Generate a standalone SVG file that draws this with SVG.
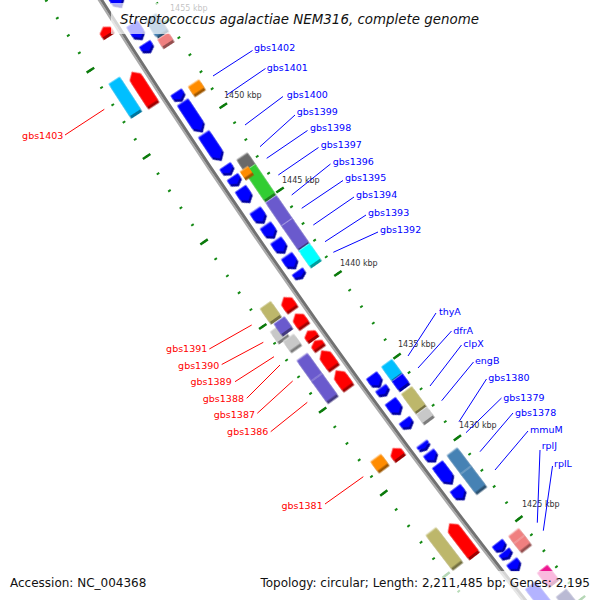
<svg xmlns="http://www.w3.org/2000/svg" width="600" height="600" viewBox="0 0 600 600">
<style>
text{font-family:"DejaVu Sans","Liberation Sans",sans-serif}
.lb{font-size:9.5px;fill:#0000ff}
.lr{font-size:9.5px;fill:#ff0000;text-anchor:end}
.tk{font-size:8px;fill:#333333}
.f{filter:url(#bev)}
.bl{fill:#0000ff}.rd{fill:#ff0000}.sb{fill:#4682b4}.lc{fill:#f08080}.or{fill:#ff8c00}.dg{fill:#696969}.gr{fill:#32cd32}.pu{fill:#6a5acd}.cy{fill:#00ffff}.ds{fill:#00bfff}.kh{fill:#bdb76b}.si{fill:#c8c8c8}.pk{fill:#ee1590}.nv{fill:#191970}
.ldb{stroke:#0000ff;stroke-width:1;fill:none}
.ldr{stroke:#ff0000;stroke-width:1;fill:none}
.ov{fill:#ffffff;fill-opacity:0.7}
.ttl{font-size:13.4px;font-style:italic;fill:#111111}
.lg{font-size:12px;fill:#111111}
.tmin{fill:none;stroke:#158a15;stroke-width:3}
.tmaj{fill:none;stroke:#0b7a0b;stroke-width:9}
</style>
<defs>
<filter id="bev" filterUnits="userSpaceOnUse" x="-20" y="-40" width="40" height="80" color-interpolation-filters="sRGB">
<feOffset in="SourceGraphic" dx="-0.5" dy="-2.6" result="o"/>
<feColorMatrix in="o" type="matrix" values="0.62 0 0 0 0 0 0.62 0 0 0 0 0 0.62 0 0 0 0 0 1 0" result="d"/>
<feOffset in="SourceGraphic" dx="0.2" dy="1" result="o2"/>
<feColorMatrix in="o2" type="matrix" values="0.6 0 0 0 0.4 0 0.6 0 0 0.4 0 0 0.6 0 0.4 0 0 0 1 0" result="l"/>
<feMerge><feMergeNode in="d"/><feMergeNode in="l"/><feMergeNode in="SourceGraphic"/></feMerge>
</filter>
<path id="d37" d="M-6.5,18.5H6.5V-12.5L0,-18.5L-6.5,-12.5Z"/>
<path id="d36" d="M-6.5,18H6.5V-12L0,-18L-6.5,-12Z"/>
<path id="d33" d="M-6.5,16.5H6.5V-10.5L0,-16.5L-6.5,-10.5Z"/>
<path id="d29" d="M-6.5,14.5H6.5V-8.5L0,-14.5L-6.5,-8.5Z"/>
<path id="d22" d="M-6.5,11H6.5V-5L0,-11L-6.5,-5Z"/>
<path id="d16" d="M-6.5,8H6.5V-3L0,-8L-6.5,-3Z"/>
<path id="d14" d="M-6.5,7H6.5V-2L0,-7L-6.5,-2Z"/>
<path id="d13" d="M-6.5,6.5H6.5V-1.5L0,-6.5L-6.5,-1.5Z"/>
<path id="d12" d="M-6.5,6H6.5V-1L0,-6L-6.5,-1Z"/>
<path id="d9" d="M-6.5,4.5H6.5V0.5L0,-4.5L-6.5,0.5Z"/>
<path id="d8" d="M-6.5,4H6.5V0L0,-4L-6.5,0Z"/>
<path id="d7" d="M-6.5,3.5H6.5V0L0,-3.5L-6.5,0Z"/>
<path id="d6" d="M-6.5,3H6.5V0L0,-3L-6.5,0Z"/>
<path id="d5" d="M-6.5,2.5H6.5V0L0,-2.5L-6.5,0Z"/>
<path id="u38" d="M-6.5,-19H6.5V13L0,19L-6.5,13Z"/>
<path id="u37" d="M-6.5,-18.5H6.5V12.5L0,18.5L-6.5,12.5Z"/>
<path id="u19" d="M-6.5,-9.5H6.5V3.5L0,9.5L-6.5,3.5Z"/>
<path id="u13" d="M-6.5,-6.5H6.5V1.5L0,6.5L-6.5,1.5Z"/>
<path id="u10" d="M-6.5,-5H6.5V0L0,5L-6.5,0Z"/>
<path id="u8" d="M-6.5,-4H6.5V0L0,4L-6.5,0Z"/>
<path id="u7" d="M-6.5,-3.5H6.5V0L0,3.5L-6.5,0Z"/>
</defs>
<rect width="600" height="600" fill="#ffffff"/>
<g id="map" transform="translate(6023,-3733)">
<g id="ticks">
<path class="tmin" d="M-5909.34,3667.66 A6955,6955 0 0 0 -5427.89,4348.56" stroke-dasharray="2 18.32" stroke-dashoffset="1"/>
<path class="tmaj" d="M-5909.34,3667.66 A6955,6955 0 0 0 -5427.89,4348.56" stroke-dasharray="2.5 99.1" stroke-dashoffset="1.25"/>
<path class="tmin" d="M-5987.50,3716.17 A7047,7047 0 0 0 -5499.69,4406.08" stroke-dasharray="2 18.589" stroke-dashoffset="1"/>
<path class="tmaj" d="M-5987.50,3716.17 A7047,7047 0 0 0 -5499.69,4406.08" stroke-dasharray="2.5 100.445" stroke-dashoffset="1.25"/>
</g>
<g id="backbone">
<circle r="7002.3" fill="none" stroke="#aaaaaa" stroke-width="2"/>
<circle r="6999.8" fill="none" stroke="#727272" stroke-width="3"/>
</g>
<g id="features">
<g id="b01" transform="rotate(147.802) translate(6987,0)"><use href="#d37" class="f bl"/></g>
<g id="b02" transform="rotate(147.404) translate(6987,0)"><use href="#d16" class="f bl"/></g>
<g id="b03" transform="rotate(147.244) translate(6987,0)"><use href="#d8" class="f bl"/></g>
<g id="b04" transform="rotate(146.770) translate(6987,0)"><use href="#d8" class="f bl"/></g>
<g id="b05" transform="rotate(146.569) translate(6987,0)"><use href="#d33" class="f bl"/></g>
<g id="b06" transform="rotate(146.273) translate(6987,0)"><use href="#d29" class="f bl"/></g>
<g id="b07" transform="rotate(146.044) translate(6987,0)"><use href="#d8" class="f bl"/></g>
<g id="b08" transform="rotate(145.936) translate(6987,0)"><use href="#d8" class="f bl"/></g>
<g id="b09" transform="rotate(145.794) translate(6987,0)"><use href="#d14" class="f bl"/></g>
<g id="b10" transform="rotate(145.584) translate(6987,0)"><use href="#d13" class="f bl"/></g>
<g id="b11" transform="rotate(145.435) translate(6987,0)"><use href="#d13" class="f bl"/></g>
<g id="b12" transform="rotate(145.285) translate(6987,0)"><use href="#d13" class="f bl"/></g>
<g id="b13" transform="rotate(145.130) translate(6987,0)"><use href="#d13" class="f bl"/></g>
<g id="b14" transform="rotate(145.004) translate(6987,0)"><use href="#d6" class="f bl"/></g>
<g id="b15" transform="rotate(143.932) translate(6987,0)"><use href="#d12" class="f bl"/></g>
<g id="b16" transform="rotate(143.825) translate(6987,0)"><use href="#d7" class="f bl"/></g>
<g id="b17" transform="rotate(143.663) translate(6987,0)"><use href="#d14" class="f bl"/></g>
<g id="b18" transform="rotate(143.494) translate(6987,0)"><use href="#d8" class="f bl"/></g>
<g id="b19" transform="rotate(143.264) translate(6987,0)"><use href="#d5" class="f bl"/></g>
<g id="b20" transform="rotate(143.157) translate(6987,0)"><use href="#d9" class="f bl"/></g>
<g id="b21" transform="rotate(142.982) translate(6987,0)"><use href="#d22" class="f bl"/></g>
<g id="b22" transform="rotate(142.781) translate(6987,0)"><use href="#d12" class="f bl"/></g>
<g id="b23" transform="rotate(142.230) translate(6987,0)"><use href="#d8" class="f bl"/></g>
<g id="b24" transform="rotate(142.148) translate(6987,0)"><use href="#d6" class="f bl"/></g>
<g id="b25" transform="rotate(142.033) translate(6987,0)"><use href="#d9" class="f bl"/></g>
<g id="b26" transform="rotate(141.674) translate(6987,0)"><use href="#d36" class="f bl"/></g>

<g id="c01" transform="rotate(147.356) translate(6967.5,0)"><rect class="f sb" x="-6.5" y="-9.5" width="13" height="19"/></g>
<g id="c02" transform="rotate(147.215) translate(6967.5,0)"><rect class="f lc" x="-6.5" y="-4" width="13" height="8"/></g>
<g id="c03" transform="rotate(146.748) translate(6967.5,0)"><rect class="f or" x="-6.5" y="-4.5" width="13" height="9"/></g>
<g id="c04" transform="rotate(146.010) translate(6967.5,0)"><rect class="f dg" x="-6.5" y="-6.5" width="13" height="13"/></g>
<g id="c06" transform="rotate(145.810) translate(6967.5,0)"><rect class="f gr" x="-6.5" y="-17" width="13" height="34"/></g>
<g id="c05" transform="rotate(145.939) translate(6973,0)"><rect class="f or" x="-5" y="-3.5" width="10" height="7"/></g>
<g id="c07a" transform="rotate(145.525) translate(6967.5,0)"><rect class="f pu" x="-6.5" y="-14" width="13" height="28"/></g>
<g id="c07b" transform="rotate(145.295) translate(6967.5,0)"><rect class="f pu" x="-6.5" y="-14" width="13" height="28"/></g>
<g id="c08" transform="rotate(145.085) translate(6967.5,0)"><rect class="f cy" x="-6.5" y="-9" width="13" height="18"/></g>
<g id="c09" transform="rotate(143.924) translate(6967.5,0)"><rect class="f ds" x="-6.5" y="-8" width="13" height="16"/></g>
<g id="c10" transform="rotate(143.801) translate(6967.5,0)"><rect class="f bl" x="-6.5" y="-5" width="13" height="10"/></g>
<g id="c11" transform="rotate(143.622) translate(6967.5,0)"><rect class="f kh" x="-6.5" y="-11" width="13" height="22"/></g>
<g id="c12" transform="rotate(143.463) translate(6967.5,0)"><rect class="f si" x="-6.5" y="-5" width="13" height="10"/></g>
<g id="c13a" transform="rotate(142.989) translate(6967.5,0)"><rect class="f sb" x="-6.5" y="-11.5" width="13" height="23"/></g>
<g id="c13b" transform="rotate(142.800) translate(6967.5,0)"><rect class="f sb" x="-6.5" y="-11.5" width="13" height="23"/></g>
<g id="c14a" transform="rotate(142.212) translate(6967.5,0)"><rect class="f lc" x="-6.5" y="-4.5" width="13" height="9"/></g>
<g id="c14b" transform="rotate(142.138) translate(6967.5,0)"><rect class="f lc" x="-6.5" y="-4.5" width="13" height="9"/></g>
<g id="c15" transform="rotate(141.801) translate(6967.5,0)"><rect class="f pk" x="-6.5" y="-8" width="13" height="16"/></g>
<g id="c16" transform="rotate(141.550) translate(6967.5,0)"><rect class="f nv" x="-6.5" y="-8" width="13" height="16"/></g>

<g id="r01" transform="rotate(147.541) translate(7013,0)"><use href="#u8" class="f rd"/></g>
<g id="r02" transform="rotate(146.987) translate(7013,0)"><use href="#u37" class="f rd"/></g>
<g id="r03" transform="rotate(144.865) translate(7013,0)"><use href="#u13" class="f rd"/></g>
<g id="r04" transform="rotate(144.700) translate(7013,0)"><use href="#u13" class="f rd"/></g>
<g id="r05" transform="rotate(144.549) translate(7013,0)"><use href="#u8" class="f rd"/></g>
<g id="r06" transform="rotate(144.454) translate(7013,0)"><use href="#u7" class="f rd"/></g>
<g id="r07" transform="rotate(144.307) translate(7013,0)"><use href="#u19" class="f rd"/></g>
<g id="r08" transform="rotate(144.106) translate(7013,0)"><use href="#u19" class="f rd"/></g>
<g id="r09" transform="rotate(143.355) translate(7013,0)"><use href="#u10" class="f rd"/></g>
<g id="r10" transform="rotate(142.471) translate(7013,0)"><use href="#u38" class="f rd"/></g>

<g id="o01" transform="rotate(147.004) translate(7032.5,0)"><rect class="f ds" x="-6.5" y="-19" width="13" height="38"/></g>
<g id="o02" transform="rotate(144.888) translate(7032.5,0)"><rect class="f kh" x="-6.5" y="-8" width="13" height="16"/></g>
<g id="o04" transform="rotate(144.703) translate(7037.5,0)"><rect class="f si" x="-6.5" y="-6" width="13" height="12"/></g>
<g id="o03" transform="rotate(144.738) translate(7030,0)"><rect class="f pu" x="-6.5" y="-6" width="13" height="12"/></g>
<g id="o05" transform="rotate(144.582) translate(7032.5,0)"><rect class="f si" x="-6.5" y="-5.5" width="13" height="11"/></g>
<g id="o06a" transform="rotate(144.333) translate(7032.5,0)"><rect class="f pu" x="-6.5" y="-12.5" width="13" height="25"/></g>
<g id="o06b" transform="rotate(144.129) translate(7032.5,0)"><rect class="f pu" x="-6.5" y="-12.5" width="13" height="25"/></g>
<g id="o07" transform="rotate(143.371) translate(7032.5,0)"><rect class="f or" x="-6.5" y="-5.5" width="13" height="11"/></g>
<g id="o08" transform="rotate(142.500) translate(7032.5,0)"><rect class="f kh" x="-6.5" y="-20.5" width="13" height="41"/></g>
</g>
</g>
<g id="tick-labels">
<text class="tk" x="170" y="10.5">1455 kbp</text>
<text class="tk" x="224" y="98">1450 kbp</text>
<text class="tk" x="282" y="182.5">1445 kbp</text>
<text class="tk" x="340" y="265.5">1440 kbp</text>
<text class="tk" x="398" y="346.5">1435 kbp</text>
<text class="tk" x="459" y="427.5">1430 kbp</text>
<text class="tk" x="522" y="507">1425 kbp</text>
</g>
<g id="leaders">
<path class="ldb" d="M213,76L252.5,50.5"/>
<path class="ldb" d="M226.7,95L265.5,68.5"/>
<path class="ldb" d="M245,125L283,96.5"/>
<path class="ldb" d="M260,146.7L295,115"/>
<path class="ldb" d="M266.7,158.3L307.5,130.5"/>
<path class="ldb" d="M278.3,175L318.5,147.5"/>
<path class="ldb" d="M291.7,195L330.5,164"/>
<path class="ldb" d="M301.7,208.3L343,180.5"/>
<path class="ldb" d="M313.3,225L354,197"/>
<path class="ldb" d="M325,241.7L366,215"/>
<path class="ldb" d="M333.3,252.3L378,232"/>
<path class="ldb" d="M408,356L436,313"/>
<path class="ldb" d="M418,368L451.5,331"/>
<path class="ldb" d="M430,386L461.5,345"/>
<path class="ldb" d="M441.7,400.7L473.5,362"/>
<path class="ldb" d="M459,421.7L486.5,379"/>
<path class="ldb" d="M466,432.7L501.5,398"/>
<path class="ldb" d="M480,451.7L513,413"/>
<path class="ldb" d="M495,470L528,431"/>
<path class="ldb" d="M540,450L537.3,522.7"/>
<path class="ldb" d="M552.5,466L543.3,530.7"/>
<path class="ldr" d="M65,135L104.3,109.3"/>
<path class="ldr" d="M209.3,349L251.7,325"/>
<path class="ldr" d="M221.7,364.5L263.3,342.3"/>
<path class="ldr" d="M235,381.7L274,356.7"/>
<path class="ldr" d="M246.7,398.3L280,365"/>
<path class="ldr" d="M257.3,413.3L292.7,381"/>
<path class="ldr" d="M270.7,431.7L307.3,402.3"/>
<path class="ldr" d="M325,504L363.3,476.7"/>
</g>
<g id="lbl-gbs1402"><text class="lb" x="254" y="50.5">gbs1402</text></g>
<g id="lbl-gbs1401"><text class="lb" x="266.7" y="71">gbs1401</text></g>
<g id="lbl-gbs1400"><text class="lb" x="286.7" y="97.5">gbs1400</text></g>
<g id="lbl-gbs1399"><text class="lb" x="296.7" y="114.5">gbs1399</text></g>
<g id="lbl-gbs1398"><text class="lb" x="310" y="131">gbs1398</text></g>
<g id="lbl-gbs1397"><text class="lb" x="320.7" y="148">gbs1397</text></g>
<g id="lbl-gbs1396"><text class="lb" x="332.7" y="164.5">gbs1396</text></g>
<g id="lbl-gbs1395"><text class="lb" x="345" y="181">gbs1395</text></g>
<g id="lbl-gbs1394"><text class="lb" x="356" y="198">gbs1394</text></g>
<g id="lbl-gbs1393"><text class="lb" x="368" y="216">gbs1393</text></g>
<g id="lbl-gbs1392"><text class="lb" x="380" y="233">gbs1392</text></g>
<g id="lbl-thyA"><text class="lb" x="439" y="315">thyA</text></g>
<g id="lbl-dfrA"><text class="lb" x="453.3" y="333.5">dfrA</text></g>
<g id="lbl-clpX"><text class="lb" x="463.3" y="347">clpX</text></g>
<g id="lbl-engB"><text class="lb" x="475" y="364">engB</text></g>
<g id="lbl-gbs1380"><text class="lb" x="488.3" y="380.5">gbs1380</text></g>
<g id="lbl-gbs1379"><text class="lb" x="503.3" y="400.5">gbs1379</text></g>
<g id="lbl-gbs1378"><text class="lb" x="515" y="415.5">gbs1378</text></g>
<g id="lbl-mmuM"><text class="lb" x="530" y="433">mmuM</text></g>
<g id="lbl-rplJ"><text class="lb" x="541.7" y="449">rplJ</text></g>
<g id="lbl-rplL"><text class="lb" x="554" y="467">rplL</text></g>
<g id="lbl-gbs1403"><text class="lr" x="63.3" y="139">gbs1403</text></g>
<g id="lbl-gbs1391"><text class="lr" x="207.3" y="352">gbs1391</text></g>
<g id="lbl-gbs1390"><text class="lr" x="219.3" y="368.5">gbs1390</text></g>
<g id="lbl-gbs1389"><text class="lr" x="231.7" y="385">gbs1389</text></g>
<g id="lbl-gbs1388"><text class="lr" x="244" y="402">gbs1388</text></g>
<g id="lbl-gbs1387"><text class="lr" x="255" y="418">gbs1387</text></g>
<g id="lbl-gbs1386"><text class="lr" x="268.3" y="435">gbs1386</text></g>
<g id="lbl-gbs1381"><text class="lr" x="322.7" y="508.5">gbs1381</text></g>
<g id="title">
<rect class="ov" x="111" y="3" width="378" height="31"/>
<text class="ttl" x="120" y="24">Streptococcus agalactiae NEM316, complete genome</text>
</g>
<g id="legend">
<rect class="ov" x="3" y="571" width="150" height="29"/>
<rect class="ov" x="255" y="571" width="342" height="29"/>
<text class="lg" x="10" y="587">Accession: NC_004368</text>
<text class="lg" x="590" y="587" text-anchor="end">Topology: circular; Length: 2,211,485 bp; Genes: 2,195</text>
</g>
</svg>
